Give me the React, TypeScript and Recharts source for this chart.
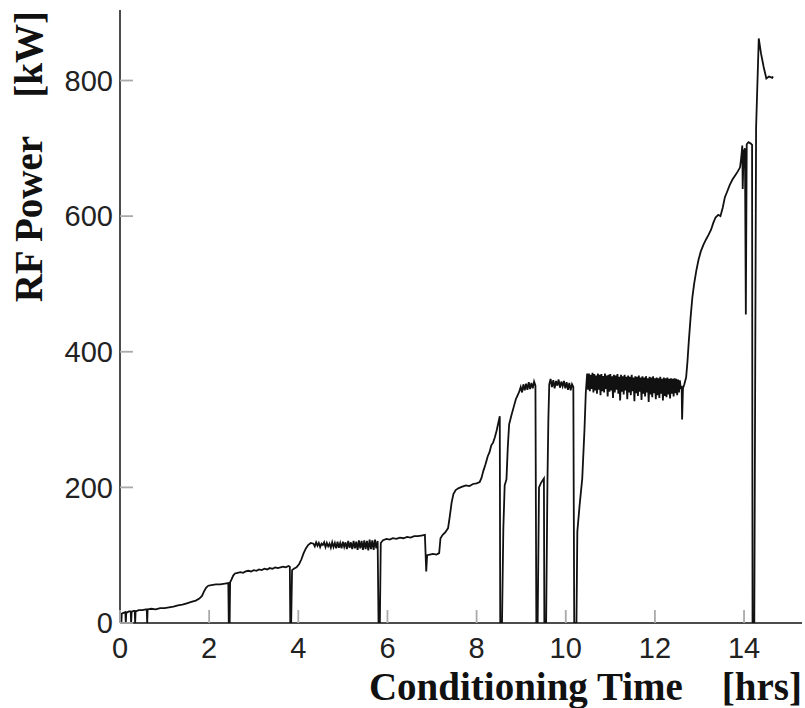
import { LineChart, Line, XAxis, YAxis, Label } from 'recharts';

// [hours, kW] readings, split by conditioning stage
type Reading = [number, number];

const startup: Reading[] = [
    [0, 6], [0.02, 14], [0.03, 0], [0.04, 14], [0.08, 15], [0.12, 16], [0.13, 0], [0.14, 15],
    [0.2, 17], [0.24, 17], [0.25, 0], [0.26, 16], [0.3, 18], [0.33, 18], [0.34, 0], [0.35, 17],
    [0.42, 19], [0.5, 19], [0.58, 20], [0.6, 20], [0.61, 0], [0.62, 20], [0.7, 21], [0.8, 20],
    [0.9, 22], [1.0, 22], [1.1, 23], [1.2, 24], [1.3, 26], [1.4, 27], [1.5, 29], [1.6, 31],
    [1.7, 33], [1.78, 36], [1.84, 40], [1.88, 46], [1.93, 52], [1.98, 55], [2.05, 56], [2.15, 57],
    [2.25, 57], [2.35, 58], [2.43, 59], [2.44, 0],
];

const stageTwo: Reading[] = [
    [2.46, 0], [2.47, 60], [2.5, 64], [2.54, 70], [2.58, 73], [2.64, 74], [2.7, 75], [2.76, 74],
    [2.82, 76], [2.88, 77], [2.94, 76], [3.0, 78], [3.06, 77], [3.12, 79], [3.18, 78], [3.24, 80],
    [3.3, 79], [3.36, 81], [3.42, 80], [3.48, 82], [3.54, 81], [3.6, 82], [3.66, 83], [3.72, 82],
    [3.78, 84], [3.81, 83], [3.82, 0], [3.84, 0], [3.86, 78],
];

const stageThree: Reading[] = [
    [3.9, 80], [3.96, 82], [4.02, 87], [4.07, 94], [4.12, 103], [4.17, 110], [4.22, 115], [4.28, 118],
    [4.34, 117], [4.37, 113], [4.4, 119], [4.43, 114], [4.46, 118], [4.49, 112], [4.52, 117], [4.55, 115],
    [4.58, 119], [4.61, 112], [4.64, 118], [4.67, 113], [4.7, 117], [4.73, 111], [4.76, 119], [4.79, 112],
    [4.82, 118], [4.85, 110], [4.88, 120], [4.91, 111], [4.94, 118], [4.97, 110], [5.0, 120], [5.03, 112],
    [5.06, 119], [5.09, 109], [5.12, 121], [5.15, 111], [5.18, 119], [5.21, 109], [5.24, 121], [5.27, 110],
    [5.3, 120], [5.33, 108], [5.36, 122], [5.39, 110], [5.42, 121], [5.45, 108], [5.48, 122], [5.51, 109],
    [5.54, 121], [5.57, 107], [5.6, 123], [5.63, 109], [5.66, 122], [5.69, 108], [5.72, 123], [5.75, 110],
    [5.78, 121], [5.8, 0], [5.83, 0], [5.85, 118],
];

const stageFour: Reading[] = [
    [5.9, 122], [5.98, 124], [6.05, 123], [6.12, 125], [6.2, 124], [6.28, 126], [6.36, 125], [6.44, 127],
    [6.52, 126], [6.6, 128], [6.68, 128], [6.76, 129], [6.84, 130], [6.87, 76], [6.89, 100], [6.95, 101],
    [7.02, 102], [7.1, 101], [7.16, 103], [7.19, 125], [7.24, 130], [7.3, 134], [7.36, 140], [7.4, 158],
    [7.44, 178], [7.48, 190], [7.53, 196], [7.6, 199], [7.68, 201], [7.76, 203], [7.84, 202], [7.92, 205],
    [8.0, 206], [8.07, 208], [8.11, 214], [8.15, 224], [8.2, 234], [8.25, 246], [8.29, 252], [8.33, 262],
    [8.37, 266], [8.41, 274], [8.45, 284], [8.49, 296], [8.52, 305], [8.53, 0], [8.57, 0],
];

const stageFive: Reading[] = [
    [8.6, 140], [8.63, 203], [8.67, 212], [8.7, 260], [8.73, 293], [8.78, 306], [8.83, 318], [8.88, 330],
    [8.93, 337], [8.96, 342], [8.99, 348], [9.02, 340], [9.05, 352], [9.08, 343], [9.11, 353], [9.14, 344],
    [9.17, 355], [9.2, 345], [9.23, 354], [9.26, 346], [9.29, 356], [9.32, 350], [9.34, 0], [9.37, 0],
    [9.4, 200], [9.44, 206], [9.48, 210], [9.51, 213], [9.52, 0], [9.56, 0], [9.59, 212], [9.61, 300],
    [9.63, 352], [9.66, 360], [9.69, 348], [9.72, 358], [9.75, 346], [9.78, 357], [9.81, 350], [9.84, 359],
    [9.87, 347], [9.9, 356], [9.93, 349], [9.96, 357], [9.99, 346], [10.02, 355], [10.05, 344], [10.08, 354],
    [10.11, 343], [10.14, 352], [10.17, 348], [10.19, 0], [10.24, 0], [10.26, 135], [10.31, 173], [10.37, 213],
    [10.42, 285], [10.45, 340], [10.48, 368],
];

const plateau: Reading[] = [
    [10.5, 344], [10.52, 368], [10.54, 342], [10.56, 366], [10.58, 345], [10.6, 369], [10.62, 340], [10.64, 367],
    [10.66, 343], [10.68, 365], [10.7, 338], [10.72, 368], [10.74, 344], [10.76, 366], [10.78, 336], [10.8, 367],
    [10.82, 342], [10.84, 364], [10.86, 340], [10.88, 368], [10.9, 345], [10.92, 365], [10.94, 334], [10.96, 366],
    [10.98, 341], [11.0, 367], [11.02, 343], [11.04, 364], [11.06, 332], [11.08, 366], [11.1, 340], [11.12, 365],
    [11.14, 344], [11.16, 367], [11.18, 338], [11.2, 363], [11.22, 328], [11.24, 366], [11.26, 341], [11.28, 364],
    [11.3, 337], [11.32, 366], [11.34, 343], [11.36, 363], [11.38, 330], [11.4, 365], [11.42, 340], [11.44, 363],
    [11.46, 336], [11.48, 366], [11.5, 342], [11.52, 362], [11.54, 327], [11.56, 364], [11.58, 339], [11.6, 363],
    [11.62, 335], [11.64, 365], [11.66, 341], [11.68, 362], [11.7, 329], [11.72, 364], [11.74, 338], [11.76, 362],
    [11.78, 334], [11.8, 364], [11.82, 340], [11.84, 361], [11.86, 326], [11.88, 363], [11.9, 337], [11.92, 362],
    [11.94, 333], [11.96, 364], [11.98, 339], [12.0, 361], [12.02, 330], [12.04, 362], [12.06, 336], [12.08, 361],
    [12.1, 332], [12.12, 363], [12.14, 338], [12.16, 360], [12.18, 328], [12.2, 362], [12.22, 335], [12.24, 361],
    [12.26, 333], [12.28, 362], [12.3, 337], [12.32, 360], [12.34, 331], [12.36, 361], [12.38, 338], [12.4, 360],
    [12.42, 334], [12.44, 361], [12.46, 339], [12.48, 360], [12.5, 336], [12.52, 359], [12.54, 340], [12.56, 358],
    [12.58, 345],
];

const finalRamp: Reading[] = [
    [12.6, 350], [12.61, 300], [12.63, 346], [12.66, 352], [12.7, 362], [12.73, 385], [12.76, 415], [12.8, 450],
    [12.84, 480], [12.88, 500], [12.93, 520], [12.98, 536], [13.03, 548], [13.09, 558], [13.15, 566], [13.2, 572],
    [13.26, 580], [13.31, 590], [13.36, 598], [13.42, 602], [13.47, 600], [13.52, 612], [13.57, 628], [13.62, 636],
    [13.68, 646], [13.74, 654], [13.8, 660], [13.86, 666], [13.91, 672], [13.94, 688], [13.96, 704], [13.97, 640],
    [13.99, 695], [14.02, 700], [14.04, 455], [14.06, 706], [14.1, 709], [14.15, 707], [14.18, 705], [14.19, 0],
    [14.23, 0], [14.27, 730], [14.33, 862], [14.38, 840], [14.44, 820], [14.5, 803], [14.56, 806], [14.63, 804],
    [14.65, 806],
];

const hourTicks = [0, 2, 4, 6, 8, 10, 12, 14];
const powerTicks = [0, 200, 400, 600, 800];

const chartData = [...startup, ...stageTwo, ...stageThree, ...stageFour, ...stageFive, ...plateau, ...finalRamp]
    .map(([hr, kw]) => ({ hr, kw }));

const tickFont = { fontFamily: '"Liberation Sans", Arial, sans-serif', fontSize: 29, fill: '#222' };
const titleFont = { fontFamily: '"Liberation Serif", "Times New Roman", serif', fontSize: 39, fontWeight: 'bold', fill: '#111' };
const tickGray = '#aaa';

// ticks point into the plot, labels sit outside
const HourTick = ({ x, y, payload }: any) => (
    <g>
        <line x1={x} x2={x} y1={y - 14} y2={y - 27} stroke={tickGray} strokeWidth={1.8} />
        <text x={x} y={y} dy="0.71em" textAnchor="middle" {...tickFont}>{payload.value}</text>
    </g>
);

const PowerTick = ({ x, y, payload }: any) => (
    <g>
        <line x1={x + 7} x2={x + 20} y1={y} y2={y} stroke={tickGray} strokeWidth={1.8} />
        <text x={x} y={y} dy="0.355em" textAnchor="end" {...tickFont}>{payload.value}</text>
    </g>
);

const App = () => (
    <div style={{ position: 'absolute', left: 0, top: 0, width: 805, height: 708, background: '#fff' }}>
        <LineChart width={805} height={708} data={chartData} margin={{ top: 10, right: 3, left: 0, bottom: 0 }}>
            <XAxis
                dataKey="hr"
                type="number"
                domain={[0, 15.3]}
                ticks={hourTicks}
                interval={0}
                allowDataOverflow={true}
                height={85}
                tickSize={0}
                tickMargin={14}
                tick={HourTick}
                tickLine={false}
                axisLine={{ stroke: '#111', strokeWidth: 1.5 }}>
                <Label content={() => (
                    <text x={802} y={700} textAnchor="end" style={{ whiteSpace: 'pre' }} {...titleFont}>
                        Conditioning Time    [hrs]
                    </text>
                )} />
            </XAxis>
            <XAxis xAxisId="top" orientation="top" type="number" domain={[0, 15.3]} height={0}
                tick={false} tickLine={false} axisLine={{ stroke: '#111', strokeWidth: 2 }} />
            <YAxis
                type="number"
                domain={[0, 904]}
                ticks={powerTicks}
                interval={0}
                allowDataOverflow={true}
                width={120}
                tickSize={0}
                tickMargin={7}
                tick={PowerTick}
                tickLine={false}
                axisLine={{ stroke: '#111', strokeWidth: 1.5 }}>
                <Label content={() => (
                    <text x={42} y={11} transform="rotate(-90 42 11)" textAnchor="end" style={{ whiteSpace: 'pre' }} {...titleFont}>
                        RF Power    [kW]
                    </text>
                )} />
            </YAxis>
            <YAxis yAxisId="right" orientation="right" type="number" domain={[0, 904]} width={0}
                tick={false} tickLine={false} axisLine={{ stroke: '#aaa', strokeWidth: 1 }} />
            <Line
                type="linear"
                dataKey="kw"
                dot={false}
                activeDot={false}
                stroke="#111"
                strokeWidth={1.8}
                isAnimationActive={false} />
        </LineChart>
    </div>
);

export default App;
